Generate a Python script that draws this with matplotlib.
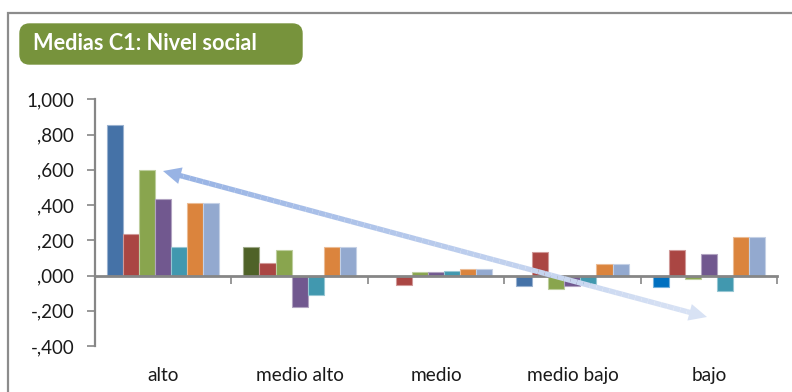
import numpy as np
import matplotlib
matplotlib.use("Agg")
import matplotlib.pyplot as plt
from matplotlib.patches import FancyBboxPatch, Rectangle, Polygon
from matplotlib.collections import LineCollection
from matplotlib.transforms import blended_transform_factory
import matplotlib.colors as mcolors

plt.rcParams['font.family'] = ['Lato', 'DejaVu Sans']

categories = ["alto", "medio alto", "medio", "medio bajo", "bajo"]
serie_1 = [0.854, 0.162, 0.000, -0.058, -0.068]
serie_2 = [0.236, 0.069, -0.055, 0.131, 0.143]
serie_3 = [0.599, 0.143, 0.020, -0.077, -0.020]
serie_4 = [0.435, -0.180, 0.018, -0.058, 0.124]
serie_5 = [0.164, -0.110, 0.025, -0.050, -0.088]
serie_6 = [0.410, 0.164, 0.038, 0.064, 0.218]
serie_7 = [0.410, 0.164, 0.038, 0.064, 0.218]
series = [serie_1, serie_2, serie_3, serie_4, serie_5, serie_6, serie_7]

series_colors = ["#4572A7", "#AA4643", "#89A54E", "#71588F", "#4198AF", "#DB843D", "#93A9CF"]
# individually recoloured points of the first series
point_colors = {(0, 1): "#4F6228", (0, 4): "#0070C0"}

yticks = [-0.4, -0.2, 0.0, 0.2, 0.4, 0.6, 0.8, 1.0]
ytick_labels = ["-,400", "-,200", ",000", ",200", ",400", ",600", ",800", "1,000"]

W, H = 792, 392
fig = plt.figure(figsize=(W / 100, H / 100), dpi=100)
fig.patch.set_facecolor("white")

# outer chart frame (continues past the right and bottom edges)
fig.add_artist(Rectangle((8 / W, -0.1), 1.2, (H - 13) / H + 0.1, transform=fig.transFigure,
                         fill=False, edgecolor="#8c8c8c", linewidth=1.6))

ax_l, ax_r = 95, 777
ax_t, ax_b = 99.3, 346
ax = fig.add_axes([ax_l / W, (H - ax_b) / H, (ax_r - ax_l) / W, (ax_b - ax_t) / H])

n = len(series)
bw = 1.0 / (n + 1.5)
x = np.arange(len(categories))
for s, vals in enumerate(series):
    offs = (s - (n - 1) / 2) * bw
    cols = [point_colors.get((s, i), series_colors[s]) for i in range(len(categories))]
    edge = [mcolors.to_hex(0.55 * np.array(mcolors.to_rgb(c)) + 0.45) for c in cols]
    ax.bar(x + offs, vals, width=bw, color=cols, edgecolor=edge, linewidth=0.8, zorder=2)

ax.set_xlim(-0.5, len(categories) - 0.5)
ax.set_ylim(-0.4, 1.0)
ax.set_yticks(yticks)
ax.set_yticklabels(ytick_labels, fontsize=13.5, color="#1a1a1a")
ax.tick_params(axis="y", direction="out", length=6, width=1.2, color="#868686", pad=9)

for side in ("top", "right"):
    ax.spines[side].set_visible(False)
ax.spines["left"].set_color("#868686")
ax.spines["left"].set_linewidth(1.6)
ax.spines["bottom"].set_position(("data", 0))
ax.spines["bottom"].set_color("#868686")
ax.spines["bottom"].set_linewidth(2.0)
ax.spines["bottom"].set_zorder(3)
ax.set_xticks(np.arange(0.5, len(categories) - 0.4, 1.0))
ax.set_xticklabels([])
ax.tick_params(axis="x", direction="out", length=6, width=1.2, color="#868686")

tr = blended_transform_factory(ax.transData, ax.transAxes)
for i, c in enumerate(categories):
    ax.text(i, -0.12, c, transform=tr, ha="center", va="center", fontsize=13.7, color="#1a1a1a")

# title badge
fig.add_artist(FancyBboxPatch((20 / W, (H - 64) / H), 282 / W, 40 / H,
                              boxstyle="round,pad=0,rounding_size=0.012",
                              transform=fig.transFigure, facecolor="#77933C",
                              edgecolor="#77933C", mutation_aspect=W / H))
fig.text(33 / W, (H - 44) / H, "Medias C1: Nivel social", color="white",
         fontsize=15.7, fontweight="bold", ha="left", va="center")

# double-headed trend arrow with a fading colour
p0 = np.array([163.0, 171.0])
p1 = np.array([707.0, 317.0])
d = (p1 - p0) / np.linalg.norm(p1 - p0)
nrm = np.array([-d[1], d[0]])
head_len, head_w = 18.0, 8.5
a0 = p0 + d * head_len * 0.8
a1 = p1 - d * head_len * 0.8
c_start = np.array(mcolors.to_rgb("#98B3E4"))
c_end = np.array(mcolors.to_rgb("#D8E2F4"))
N = 80
pts = np.linspace(a0, a1, N + 1)
segs = [[(pts[k][0] / W, 1 - pts[k][1] / H), (pts[k + 1][0] / W, 1 - pts[k + 1][1] / H)] for k in range(N)]
cols = [c_start + (c_end - c_start) * (k / (N - 1)) for k in range(N)]
fig.add_artist(LineCollection(segs, colors=cols, linewidths=3.8, transform=fig.transFigure,
                              capstyle="butt", zorder=5))

def head(tip, direction, color):
    base = tip - direction * head_len
    pts_h = [tip, base + nrm * head_w, base - nrm * head_w]
    pts_h = [(p[0] / W, 1 - p[1] / H) for p in pts_h]
    fig.add_artist(Polygon(pts_h, closed=True, transform=fig.transFigure,
                           facecolor=color, edgecolor="none", zorder=6))

head(p0, -d, c_start)
head(p1, d, c_end)

fig.savefig("out.png", dpi=100)
